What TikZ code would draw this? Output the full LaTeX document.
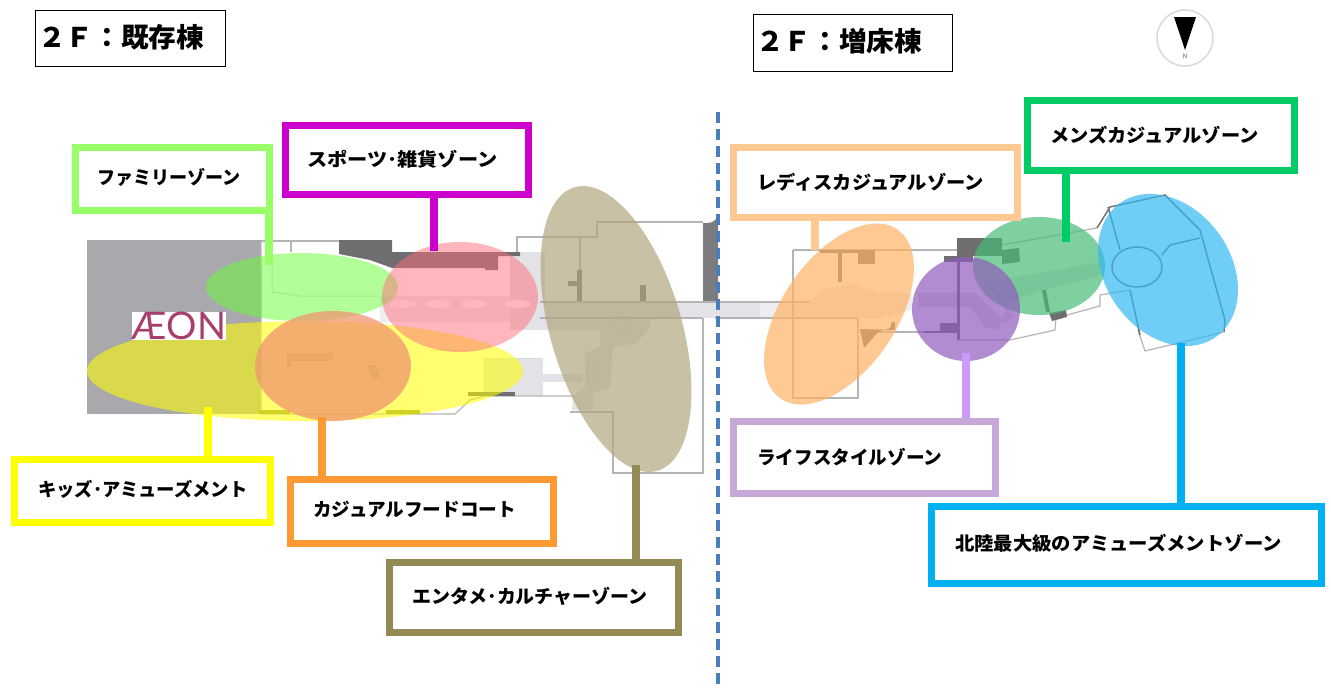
\documentclass[tikz,border=0pt]{standalone}
\usepackage{fontspec}
\setmainfont{Noto Sans CJK JP}
\newfontfamily\aeonfont{Lato}
\definecolor{cFam}{HTML}{99FF66}
\definecolor{cSpo}{HTML}{CC00CC}
\definecolor{cKid}{HTML}{FFFF00}
\definecolor{cCas}{HTML}{FF9933}
\definecolor{cEnt}{HTML}{948A54}
\definecolor{cLad}{HTML}{FFC993}
\definecolor{cMen}{HTML}{00CC66}
\definecolor{cLif}{HTML}{C6A9D8}
\definecolor{cLifL}{HTML}{CC99FF}
\definecolor{cAmu}{HTML}{00B0F0}
\definecolor{planline}{HTML}{B4B4B8}
\definecolor{planfill}{HTML}{E3E3E7}
\definecolor{plandark}{HTML}{6E6E70}
\definecolor{plangrey}{HTML}{A9A9AD}
\definecolor{aFam}{HTML}{66FF33}
\definecolor{aSpo}{RGB}{255,109,121}
\definecolor{aCas}{RGB}{241,149,111}
\definecolor{aEnt}{RGB}{176,166,127}
\definecolor{aLad}{RGB}{255,178,101}
\definecolor{aMen}{RGB}{72,188,120}
\definecolor{aLif}{RGB}{145,91,188}
\definecolor{aAmu}{RGB}{51,184,241}
\definecolor{cLogo}{RGB}{168,62,110}
\definecolor{cDiv}{RGB}{74,126,187}
\newcommand{\hsq}[2]{\scalebox{#1}[1]{#2}}
\tikzset{
  x=1pt,y=-1pt,
  zonebox/.style={draw,line width=7pt,fill=white,inner sep=0pt},
  headbox/.style={draw=black,line width=1.5pt,fill=white,inner sep=0pt},
  zonetext/.style={anchor=west,inner sep=0pt,font=\fontsize{18.6}{20}\selectfont\bfseries,text=black},
  headtext/.style={anchor=west,inner sep=0pt,font=\fontsize{27}{30}\selectfont\bfseries,text=black},
  link/.style={line width=8pt},
  area/.style={fill opacity=#1,draw=none},
  wall/.style={draw=planline,line width=1.2pt},
  dwall/.style={draw=black!55,line width=1.5pt},
  fwall/.style={draw=black!14,line width=1pt},
  corr/.style={fill=planfill,draw=none},
  lcorr/.style={fill=planfill!60!white,draw=none},
  blk/.style={fill=plandark,draw=none},
}
\begin{document}
\begin{tikzpicture}
\useasboundingbox (0,0) rectangle (1331,688);
% ---------- floor plan, west building
\fill[plangrey] (87,240) rectangle (261,414);
\fill[lcorr] (380,296) rectangle (510,322);
\fill[white] (403,304) ellipse[x radius=13,y radius=4];
\fill[white] (438,304) ellipse[x radius=13,y radius=4];
\fill[white] (474,304) ellipse[x radius=13,y radius=4];
\fill[corr] (510,252) rectangle (545,330);
\fill[white] (518,304) ellipse[x radius=13,y radius=4];
\fill[corr] (484,358) rectangle (543,396);
\fill[corr] (540,374) rectangle (582,382);
\draw[wall] (261,241) -- (392,241);
\draw[wall] (261,241) -- (261,414) -- (455,414) -- (470,400) -- (484,396) -- (575,396);
\draw[wall] (517,252) -- (517,237) -- (597,237) -- (597,222) -- (703,222);
\draw[wall] (291,241) -- (291,252);
\draw[fwall] (540,358) -- (484,358) -- (484,396);
\fill[blk] (339,240) -- (392,240) -- (392,252) -- (520,252) -- (520,256) -- (498,256) -- (498,270) -- (485,270) -- (485,268) -- (392,268) -- (370,260) -- (339,254) -- cycle;
\fill[blk] (468,392) rectangle (515,396);
\fill[plandark!70!yellow] (386,410) rectangle (420,414);
\fill[plandark!70!yellow] (258,410) rectangle (290,414);
\fill[black!28] (287,353) rectangle (333,361);
\fill[black!28] (287,353) rectangle (291,367);
\fill[black!30] (367,365) -- (375,365) -- (381,378) -- (372,378) -- cycle;
\draw[fwall] (272,262) -- (272,292) -- (300,296) -- (330,296) -- (380,296);
\draw[fwall] (340,330) -- (340,410);
\draw[fwall] (262,368) -- (410,368);
\draw[fwall] (430,350) -- (470,350);
% ---------- centre
\fill[corr] (540,302) rectangle (790,318);
\fill[corr] (545,318) -- (650,312) -- (650,327) -- (637,343) -- (613,347) -- (610,388) -- (593,393) -- (593,410) -- (572,410) -- (573,397) -- (585,387) -- (585,353) -- (600,347) -- (600,330) -- (545,330) -- cycle;
\draw[fwall] (623,325) circle[radius=9];
\draw[fwall] (592,372) ellipse[x radius=5,y radius=10];
\fill[plandark!90!white] (703,223) -- (708,223) arc[start angle=90,end angle=0,radius=10] -- (718,302) -- (703,302) -- cycle;
\draw[wall] (580,237) -- (580,302);
\fill[blk] (577,270) rectangle (582,302);
\fill[blk] (568,281) rectangle (578,286);
\fill[blk] (640,285) rectangle (646,302);
\draw[wall] (703,318) -- (703,473) -- (613,473) -- (613,412) -- (570,412);
\draw[wall] (540,302) -- (715,302);
\draw[wall] (540,318) -- (703,318);
% ---------- east building, ladies
\fill[lcorr] (760,302) -- (810,302) -- (825,288) -- (855,285) -- (880,293) -- (912,293) -- (912,310) -- (880,318) -- (760,318) -- cycle;
\draw[wall] (793,250) -- (793,398) -- (858,398) -- (858,318);
\draw[wall] (793,250) -- (965,250);
\draw[wall] (715,302) -- (810,302);
\draw[wall] (715,318) -- (858,318);
\draw[wall] (860,332) -- (960,332);
\fill[blk] (820,250) rectangle (875,253);
\fill[blk] (858,253) rectangle (875,264);
\fill[blk] (838,253) rectangle (842,282);
\fill[blk] (860,329) -- (895,330) -- (895,322) -- (892,322) -- (890,328) -- (878,332) -- (864,348) -- cycle;
% ---------- east building, life style and mens
\fill[corr] (918,293) -- (975,293) -- (1005,323) -- (1015,317) -- (985,283) -- (1100,262) -- (1100,275) -- (1010,300) -- (1000,325) -- (1000,330) -- (985,327) -- (970,307) -- (918,307) -- cycle;
\fill[blk] (957,238) rectangle (1002,256);
\fill[blk] (944,256) rectangle (973,262);
\fill[blk] (1002,250) -- (1019,248) -- (1020,262) -- (1002,264) -- cycle;
\fill[blk] (957,262) rectangle (960,340);
\fill[blk] (924,331) rectangle (958,333);
\fill[blk] (940,323) rectangle (958,333);
\draw[wall] (957,340) -- (1010,340) -- (1055,330) -- (1056,318) -- (1100,306) -- (1100,295);
\draw[wall] (1002,245) -- (1097,228);
\fill[blk] (1042,290) -- (1046,290) -- (1050,312) -- (1046,312) -- cycle;
\fill[blk] (1049,313) -- (1066,310) -- (1067,317) -- (1052,321) -- cycle;
% ---------- east building, amusement
\draw[dwall] (1097,228) -- (1110,207) -- (1165,195) -- (1200,230) -- (1225,320) -- (1224,332);
\draw[wall] (1224,332) -- (1145,351) -- (1138,330);
\draw[dwall] (1130,290) -- (1140,335);
\draw[dwall] (1120,250) -- (1108,207);
\draw[dwall] (1200,238) -- (1170,245) -- (1162,255);
\draw[dwall] (1137,267) ellipse[x radius=25,y radius=20];
\draw[wall] (1100,295) -- (1130,290);
% ---------- zone ellipses
\fill[fill=cKid,area=.56] (305,371) ellipse[x radius=218,y radius=50];
\fill[fill=aFam,area=.5] (302,287) ellipse[x radius=96,y radius=34];
\fill[fill=aSpo,area=.5] (460,297) ellipse[x radius=78,y radius=55];
\fill[fill=aCas,area=.75] (333,366) ellipse[x radius=78,y radius=55];
\fill[fill=aEnt,area=.7,rotate around={16.3:(616,329)}] (616,329) ellipse[x radius=65.7,y radius=147.7];
\fill[fill=aLad,area=.7,rotate around={-34.7:(839,314)}] (839,314) ellipse[x radius=56.9,y radius=102.8];
\fill[fill=aMen,area=.7] (1039,266) ellipse[x radius=66,y radius=49];
\fill[fill=aLif,area=.7] (966,309) ellipse[x radius=54,y radius=52];
\fill[fill=aAmu,area=.7,rotate around={36:(1168,270)}] (1168,270) ellipse[x radius=62.5,y radius=82.3];
% ---------- logo
\node[fill=white,minimum width=94pt,minimum height=28pt,inner sep=0pt,text=cLogo,font=\aeonfont\fontsize{38}{38}\selectfont] (logo) at (179,326) {ÆON};
% ---------- headings
\node[headbox,minimum width=190pt,minimum height=56pt] (head1) at (130.5,38.5) {};
\node[headtext] (head1t) at (38,37) {\hsq{1.025}{２Ｆ：既存棟}};
\node[headbox,minimum width=199pt,minimum height=57pt] (head2) at (853,43) {};
\node[headtext] (head2t) at (756,41) {\hsq{1.025}{２Ｆ：増床棟}};
% ---------- compass
\node[circle,draw=black!15,line width=1.5pt,minimum size=56pt,inner sep=0pt] (compass) at (1185,38) {};
\fill[black] (1174,17) -- (1196,17) -- (1185,50) -- cycle;
\node[inner sep=0pt,font=\fontsize{6}{6}\selectfont,text=black!70] (north) at (1185,56) {N};
% ---------- divider
\coordinate (divtop) at (718,112);
\coordinate (divbot) at (718,686);
\draw[draw=cDiv,line width=3.6pt,dash pattern=on 11pt off 6pt] (divtop) -- (divbot);
% ---------- zone boxes
\node[zonebox,draw=cFam,minimum width=194pt,minimum height=63pt] (fam) at (172,178.5) {};
\node[zonetext] (famt) at (97,177) {\hsq{.97}{ファミリーゾーン}};
\node[zonebox,draw=cSpo,minimum width=243pt,minimum height=69pt] (spo) at (406.5,159.5) {};
\node[zonetext] (spot) at (307,159) {\hsq{1.085}{スポーツ･雑貨ゾーン}};
\node[zonebox,draw=cKid,minimum width=256pt,minimum height=63pt] (kid) at (142,490.5) {};
\node[zonetext] (kidt) at (38,489) {\hsq{.985}{キッズ･アミューズメント}};
\node[zonebox,draw=cCas,minimum width=263pt,minimum height=64pt] (cas) at (421.5,511) {};
\node[zonetext] (cast) at (313,509) {カジュアルフードコート};
\node[zonebox,draw=cEnt,minimum width=289pt,minimum height=70pt] (ent) at (533.5,597) {};
\node[zonetext] (entt) at (412,596) {\hsq{1.02}{エンタメ･カルチャーゾーン}};
\node[zonebox,draw=cLad,minimum width=284pt,minimum height=70pt] (lad) at (875,182) {};
\node[zonetext] (ladt) at (757,182) {\hsq{1.035}{レディスカジュアルゾーン}};
\node[zonebox,draw=cMen,minimum width=267pt,minimum height=70pt] (men) at (1160.5,135) {};
\node[zonetext] (ment) at (1050,135) {\hsq{1.035}{メンズカジュアルゾーン}};
\node[zonebox,draw=cLif,minimum width=262pt,minimum height=72pt] (lif) at (864,457) {};
\node[zonetext] (lift) at (757,457) {ライフスタイルゾーン};
\node[zonebox,draw=cAmu,minimum width=390pt,minimum height=77pt] (amu) at (1126,544.5) {};
\node[zonetext] (amut) at (955,543) {\hsq{1.04}{北陸最大級のアミューズメントゾーン}};
% ---------- connectors
\coordinate (famend) at (268.5,265);
\coordinate (spoend) at (434,251);
\coordinate (kidend) at (208,407);
\coordinate (casend) at (322,417);
\coordinate (entend) at (636,465);
\coordinate (ladend) at (815,250);
\coordinate (menend) at (1066,242);
\coordinate (lifend) at (966,353);
\coordinate (amuend) at (1181,343);
\draw[link,draw=cFam] (fam.south -| famend) -- (famend);
\draw[link,draw=cSpo] (spo.south -| spoend) -- (spoend);
\draw[link,draw=cKid] (kid.north -| kidend) -- (kidend);
\draw[link,draw=cCas] (cas.north -| casend) -- (casend);
\draw[link,draw=cEnt] (ent.north -| entend) -- (entend);
\draw[link,draw=cLad] (lad.south -| ladend) -- (ladend);
\draw[link,draw=cMen] (men.south -| menend) -- (menend);
\draw[link,draw=cLifL] (lif.north -| lifend) -- (lifend);
\draw[link,draw=cAmu] (amu.north -| amuend) -- (amuend);
\end{tikzpicture}
\end{document}
